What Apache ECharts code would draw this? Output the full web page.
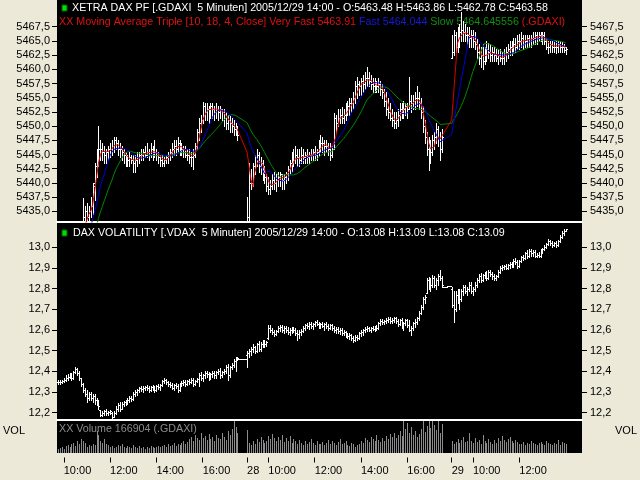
<!DOCTYPE html>
<html>
<head>
<meta charset="utf-8">
<script src="https://cdn.jsdelivr.net/npm/echarts/dist/echarts.min.js"></script>
<style>html,body{margin:0;padding:0;background:#ECE9D8;}#c{width:640px;height:480px;}</style>
</head>
<body>
<div id="c"></div>
<script>
const FONT = '"Liberation Sans", Arial, sans-serif';

// ---- time slots ----
const days = ['27', '28', '29'];
const sessionStart = ['09:45', '09:05', '09:05'];
const slotsPerDay = [98, 106, 60];      // day 27/28 include 4 late slots (VDAX only)
const padSlots = 8;
const xTickLabels = ['27 10:00','27 12:00','27 14:00','27 16:00','28 09:05','28 10:00','28 12:00','28 14:00','28 16:00','29 09:05','29 10:00','29 12:00'];

// ---- DAX 5-min bars [open, high, low, close] ----
const dax27 = [
[5426,5428,5421,5424],[5424,5426,5420,5422],[5422,5427,5421,5425],[5425,5426,5421,5423],[5423,5428,5422,5426],
[5426,5430,5425,5428],[5428,5429,5425,5427],[5427,5431,5426,5429],[5429,5430,5426,5428],[5428,5431,5427,5430],
[5430,5432,5428,5431],[5431,5432,5428,5430],[5430,5433,5429,5431],[5431,5437.3,5430,5434],[5434,5436,5432.5,5435],
[5435,5436.5,5433.5,5434],[5434,5436,5433,5435],[5435,5437.5,5434,5436],[5436,5440,5434.5,5440],[5439.5,5443.5,5437,5443],
[5443,5446,5441,5445],[5445,5450,5443,5446],[5446,5447.5,5444,5446],[5446,5447,5444,5445.5],[5445.5,5446.5,5443.5,5445],
[5445,5446,5443.5,5445.5],[5445.5,5446.5,5444,5446],[5446,5447,5444.5,5446],[5446,5447.5,5445,5446.5],[5446.5,5448,5445.5,5447.5],
[5447.5,5448,5446,5447],[5447,5447.5,5445,5446],[5446,5447,5444.5,5446],[5446,5446.5,5444,5445.5],[5445.5,5446,5443.5,5445],
[5445,5445.5,5443,5444],[5444,5445,5443,5444],[5444,5445.5,5443,5444.5],[5444.5,5445,5443.5,5444],[5444,5445,5442,5443.5],
[5443.5,5445,5442,5444],[5444,5445.5,5443,5444.5],[5444.5,5445.5,5443.5,5445],[5445,5446,5444,5445],[5445,5446,5444,5445.5],
[5445.5,5446.5,5444.5,5445],[5445,5447,5444.5,5445.5],[5445.5,5446,5444,5445],[5445,5447,5444.5,5446],[5446,5446.5,5444,5445.5],
[5445.5,5447.5,5444.5,5445.5],[5445.5,5446,5444,5445],[5445,5445.5,5443.5,5444.5],[5444.5,5445,5443,5444],[5444,5445,5443,5443.5],
[5443.5,5444.5,5443,5444],[5444,5445,5443.5,5444.5],[5444.5,5445.5,5443.5,5445],[5445,5446,5444,5445.5],[5445.5,5447,5444.5,5446],
[5446,5447.5,5445,5446.5],[5446.5,5447.5,5445,5446],[5446,5448,5445.5,5447],[5447,5447.5,5445,5446.5],[5446.5,5447,5445,5446],
[5446,5446.5,5444.5,5445.5],[5445.5,5446.5,5444.5,5445],[5445,5446,5444,5445],[5445,5446,5443.5,5444.5],[5444.5,5445.5,5443,5444.5],
[5444.5,5446,5442.5,5445],[5445,5447,5444.5,5446.5],[5446.5,5449.5,5446,5449],[5449,5451.5,5447.5,5450.5],[5450.5,5452,5449,5451],
[5451,5454.2,5450.5,5453.5],[5453.5,5454,5451,5452.5],[5452.5,5454,5451,5453],[5453,5453.5,5450.5,5452.5],[5452.5,5454,5451.5,5453.5],
[5453.5,5454,5451.5,5453],[5453,5453.5,5451,5452.5],[5452.5,5454,5451.5,5453],[5453,5453.5,5451,5452.5],[5452.5,5453.5,5451.5,5453],
[5453,5453,5451,5452.5],[5452.5,5453,5450,5451.5],[5451.5,5452.5,5449.5,5450.5],[5450.5,5452,5449.5,5451],[5451,5452,5449,5450.5],
[5450.5,5451.5,5449,5450],[5450,5451,5448.5,5449.5],[5449.5,5450.5,5448.5,5449.5],[5449.5,5450,5447.5,5448.5]
];
const dax28 = [
[5433,5437.5,5430,5434],[5434,5443.5,5433.5,5440],[5440,5442.5,5439,5440],[5440,5443.5,5439.5,5443],[5443,5445,5441.5,5444.5],
[5444.5,5446,5443,5445],[5445,5445.5,5442,5443],[5443,5444.5,5441.5,5443.5],[5443.5,5444,5440.5,5442],[5442,5443,5440,5441],
[5441,5441.5,5438.5,5439.5],[5439.5,5441,5438,5439],[5439,5440.5,5438,5439.5],[5439.5,5441.5,5439,5440.5],[5440.5,5442,5439,5440],
[5440,5441.5,5438.5,5440.5],[5440.5,5442,5439.5,5441],[5441,5442,5439.5,5441.5],[5441.5,5441.5,5439,5440.5],[5440.5,5441.5,5439,5441],
[5441,5442,5440,5441.5],[5441.5,5443,5440.5,5442.5],[5442.5,5444,5441.5,5443.5],[5443.5,5445.5,5442,5444.5],[5444.5,5446,5443,5444],
[5444,5446.5,5443.5,5445],[5445,5446,5443,5444.5],[5444.5,5446,5443,5444],[5444,5446.3,5443.5,5445],[5445,5446,5443.5,5444.5],
[5444.5,5445.5,5443.5,5445],[5445,5446,5443.5,5444.5],[5444.5,5445.5,5443.5,5445],[5445,5446,5444,5445],[5445,5446,5444,5445.5],
[5445.5,5446.5,5444,5445],[5445,5446,5444,5445.5],[5445.5,5447.5,5445,5446.5],[5446.5,5448.4,5445.5,5447],[5447,5448,5445.5,5447],
[5447,5447.5,5445,5446.5],[5446.5,5447.5,5445.5,5446.5],[5446.5,5447,5445,5446],[5446,5447,5444,5445],[5445,5446.5,5444.5,5446],
[5446,5452.3,5446,5451.5],[5451.5,5452,5448.7,5450.5],[5450.5,5453,5450,5451.5],[5451.5,5453,5450.5,5452],[5452,5453.4,5450.5,5451.5],
[5451.5,5453,5450.5,5452],[5452,5454,5451,5453],[5453,5454.5,5452,5453.5],[5453.5,5455,5452,5454],[5454,5455,5452.5,5454],
[5454,5456,5453,5455],[5455,5458,5454,5457],[5457,5458.6,5455,5457.5],[5457.5,5458,5455.5,5457],[5457,5458.5,5455.5,5458],
[5458,5459,5456,5457.5],[5457.5,5459.5,5456.5,5458.5],[5458.5,5460.4,5457,5458.5],[5458.5,5459.5,5457,5458],[5458,5459,5456.5,5457.5],
[5457.5,5458.5,5456,5457],[5457,5458.5,5456,5457.5],[5457.5,5458,5456,5457],[5457,5458.5,5456,5457.5],[5457.5,5458,5455.5,5456.5],
[5456.5,5457.5,5455,5456],[5456,5456.5,5453.5,5454.5],[5454.5,5456,5452,5453],[5453,5455,5451.5,5452.5],[5452.5,5454,5451,5451.5],
[5451.5,5453,5450,5451],[5451,5452.5,5449.6,5450.5],[5450.5,5452.5,5449.6,5451],[5451,5453,5450,5452],[5452,5454,5451,5453],
[5453,5454,5451.5,5453.5],[5453.5,5454.5,5451.5,5453],[5453,5454,5452,5453.5],[5453.5,5454,5451.5,5453],[5453,5458.6,5453,5454.5],
[5454.5,5455.5,5452.5,5454],[5454,5455.5,5453,5454.5],[5454.5,5456,5453,5455],[5455,5457,5453.5,5455],[5455,5456,5453,5454],
[5454,5455,5451.5,5452.5],[5452.5,5453.5,5449,5450],[5450,5451,5447,5448],[5448,5449,5445,5446],[5446,5448,5442.3,5444.5],
[5444.5,5447.5,5443.5,5445.5],[5445.5,5448.5,5445,5447.5],[5447.5,5449,5446,5448],[5448,5450.5,5447,5449.5],[5449.5,5450,5446.5,5447.5],
[5447.5,5449,5444,5446],[5446,5449.5,5445.5,5448]
];
const dax29 = [
[5462,5466,5462,5463],[5463,5467,5462.5,5466],[5466,5466.5,5463,5464],[5464,5467.5,5463,5465.5],[5465.5,5468,5464,5466.5],
[5466.5,5470,5465,5467],[5467,5468.5,5465,5466.5],[5466.5,5468,5465,5466],[5466,5467.5,5464.5,5466],[5466,5467.5,5464,5465.5],
[5465.5,5467,5464,5466],[5466,5467,5463.9,5465],[5465,5466.5,5463.5,5464.5],[5464.5,5465.5,5462,5463],[5463,5464.5,5461,5462],
[5462,5464,5460.4,5462.5],[5462.5,5464.5,5460,5461.5],[5461.5,5464,5461,5462.5],[5462.5,5465,5461.5,5463.5],[5463.5,5464.6,5462,5463],
[5463,5464.5,5461.5,5462.5],[5462.5,5464,5461.5,5463],[5463,5464,5461.5,5462.5],[5462.5,5463.5,5461.5,5462],[5462,5463.5,5461,5462.5],
[5462.5,5463.5,5461.5,5462],[5462,5463,5461,5462],[5462,5463.5,5461,5462.5],[5462.5,5464,5461.5,5463],[5463,5464.5,5462,5463.5],
[5463.5,5465,5462.5,5464],[5464,5465,5462.5,5463.5],[5463.5,5465.5,5463,5464.5],[5464.5,5465.5,5463,5464],[5464,5466,5463.5,5465],
[5465,5466.3,5463.5,5465],[5465,5466.5,5464,5465.5],[5465.5,5466,5463.5,5464.5],[5464.5,5466,5463.9,5465],[5465,5466,5464,5465.5],
[5465.5,5466,5464,5465],[5465,5466,5464,5465.5],[5465.5,5466.5,5464.5,5465.5],[5465.5,5466.5,5464.5,5466],[5466,5466.5,5464.5,5465.5],
[5465.5,5466.5,5465,5466],[5466,5466.6,5465,5466],[5466,5466.6,5464.5,5466],[5466,5466.5,5464.5,5465],[5465,5465.5,5463.5,5464],
[5464,5465,5462.8,5464],[5464,5465,5463,5464.5],[5464.5,5465,5463,5464],[5464,5465,5463,5464],[5464,5465,5462.8,5464],
[5464,5465,5463,5464.5],[5464.5,5465,5463,5464],[5464,5464.8,5463,5464],[5464,5464.5,5463,5464],[5463.48,5463.86,5462.78,5463.58]
];

// ---- VDAX 5-min bars [open, high, low, close] ----
const vdax27 = [
[12.35,12.36,12.34,12.35],[12.35,12.36,12.34,12.35],[12.35,12.36,12.345,12.355],[12.355,12.37,12.35,12.36],[12.36,12.38,12.355,12.37],
[12.37,12.385,12.36,12.375],[12.375,12.39,12.37,12.38],[12.38,12.39,12.36,12.37],[12.37,12.40,12.365,12.395],[12.395,12.42,12.39,12.41],
[12.41,12.415,12.38,12.39],[12.39,12.40,12.36,12.37],[12.37,12.37,12.33,12.34],[12.34,12.345,12.30,12.31],[12.31,12.32,12.28,12.29],
[12.29,12.31,12.25,12.27],[12.27,12.30,12.26,12.29],[12.29,12.30,12.26,12.27],[12.27,12.29,12.25,12.28],[12.28,12.29,12.24,12.26],
[12.26,12.27,12.235,12.25],[12.25,12.26,12.22,12.23],[12.215,12.215,12.185,12.19],[12.19,12.21,12.185,12.20],[12.20,12.215,12.19,12.21],
[12.21,12.22,12.19,12.20],[12.20,12.21,12.19,12.205],[12.205,12.215,12.195,12.21],[12.20,12.205,12.17,12.18],[12.18,12.21,12.18,12.20],
[12.20,12.23,12.195,12.22],[12.22,12.245,12.21,12.235],[12.235,12.25,12.21,12.22],[12.22,12.25,12.22,12.24],[12.24,12.255,12.23,12.25],
[12.25,12.26,12.235,12.245],[12.245,12.27,12.24,12.26],[12.26,12.28,12.25,12.27],[12.27,12.28,12.255,12.265],[12.265,12.30,12.26,12.29],
[12.29,12.31,12.28,12.30],[12.30,12.315,12.285,12.31],[12.31,12.325,12.30,12.32],[12.32,12.33,12.305,12.315],[12.315,12.33,12.30,12.32],
[12.32,12.33,12.31,12.325],[12.325,12.335,12.31,12.32],[12.32,12.33,12.30,12.31],[12.31,12.33,12.305,12.325],[12.325,12.335,12.31,12.32],
[12.32,12.33,12.30,12.31],[12.31,12.335,12.305,12.33],[12.33,12.34,12.315,12.325],[12.325,12.34,12.31,12.335],[12.335,12.36,12.33,12.355],
[12.355,12.37,12.345,12.36],[12.36,12.365,12.34,12.35],[12.35,12.355,12.33,12.34],[12.34,12.35,12.325,12.335],[12.335,12.345,12.315,12.32],
[12.32,12.34,12.31,12.335],[12.335,12.345,12.32,12.33],[12.33,12.34,12.30,12.31],[12.31,12.345,12.305,12.34],[12.34,12.355,12.33,12.345],
[12.345,12.36,12.335,12.35],[12.35,12.36,12.33,12.34],[12.34,12.36,12.335,12.355],[12.355,12.365,12.34,12.35],[12.35,12.37,12.345,12.36],
[12.36,12.37,12.33,12.34],[12.34,12.36,12.335,12.355],[12.355,12.37,12.35,12.365],[12.365,12.39,12.33,12.38],[12.38,12.395,12.36,12.37],
[12.37,12.385,12.355,12.38],[12.38,12.40,12.37,12.39],[12.39,12.40,12.375,12.385],[12.385,12.395,12.36,12.375],[12.375,12.39,12.365,12.385],
[12.385,12.40,12.375,12.39],[12.39,12.40,12.37,12.38],[12.38,12.40,12.37,12.395],[12.395,12.41,12.385,12.40],[12.40,12.415,12.37,12.38],
[12.38,12.40,12.375,12.395],[12.395,12.41,12.385,12.40],[12.40,12.43,12.39,12.42],[12.42,12.435,12.36,12.38],[12.38,12.425,12.375,12.42],
[12.42,12.44,12.41,12.43],[12.43,12.46,12.42,12.45],[12.45,12.47,12.40,12.46],[12.46,12.47,12.455,12.465]
];
const vdaxLate27 = [12.46, 12.46, 12.46, 12.46];
const vdax28 = [
[12.48,12.50,12.42,12.49],[12.49,12.51,12.47,12.50],[12.50,12.52,12.48,12.51],[12.51,12.53,12.495,12.52],[12.52,12.525,12.49,12.50],
[12.50,12.535,12.495,12.53],[12.53,12.545,12.50,12.51],[12.51,12.54,12.50,12.53],[12.53,12.55,12.52,12.54],[12.54,12.55,12.52,12.53],
[12.53,12.545,12.525,12.54],[12.56,12.625,12.555,12.61],[12.61,12.625,12.59,12.60],[12.60,12.61,12.58,12.59],[12.59,12.60,12.57,12.58],
[12.58,12.60,12.575,12.595],[12.595,12.62,12.59,12.61],[12.61,12.625,12.595,12.615],[12.615,12.625,12.59,12.60],[12.60,12.62,12.585,12.61],
[12.61,12.62,12.59,12.60],[12.60,12.615,12.58,12.59],[12.59,12.61,12.575,12.60],[12.60,12.615,12.585,12.605],[12.605,12.615,12.59,12.60],
[12.60,12.61,12.575,12.585],[12.585,12.60,12.55,12.58],[12.58,12.60,12.56,12.59],[12.59,12.605,12.575,12.595],[12.595,12.62,12.59,12.61],
[12.61,12.63,12.60,12.625],[12.625,12.635,12.61,12.62],[12.62,12.64,12.605,12.63],[12.63,12.64,12.61,12.62],[12.62,12.635,12.605,12.63],
[12.63,12.645,12.62,12.64],[12.64,12.648,12.625,12.63],[12.63,12.64,12.61,12.625],[12.625,12.635,12.61,12.63],[12.63,12.64,12.615,12.62],
[12.62,12.635,12.60,12.63],[12.63,12.64,12.61,12.62],[12.62,12.63,12.60,12.61],[12.61,12.63,12.605,12.625],[12.625,12.63,12.60,12.61],
[12.61,12.62,12.59,12.60],[12.60,12.615,12.585,12.605],[12.605,12.615,12.585,12.595],[12.595,12.61,12.58,12.60],[12.60,12.61,12.575,12.585],
[12.585,12.60,12.575,12.59],[12.59,12.595,12.565,12.575],[12.575,12.585,12.56,12.57],[12.57,12.585,12.555,12.575],[12.575,12.58,12.55,12.56],
[12.56,12.57,12.54,12.55],[12.55,12.575,12.545,12.565],[12.565,12.575,12.55,12.56],[12.56,12.59,12.555,12.585],[12.585,12.60,12.57,12.59],
[12.59,12.605,12.575,12.60],[12.60,12.615,12.59,12.605],[12.605,12.62,12.595,12.61],[12.61,12.615,12.595,12.60],[12.60,12.615,12.59,12.61],
[12.61,12.62,12.60,12.605],[12.605,12.62,12.595,12.615],[12.615,12.625,12.60,12.61],[12.61,12.64,12.605,12.635],[12.635,12.655,12.625,12.645],
[12.645,12.655,12.63,12.64],[12.64,12.65,12.63,12.645],[12.645,12.66,12.635,12.65],[12.65,12.665,12.64,12.655],[12.655,12.665,12.635,12.645],
[12.645,12.66,12.635,12.65],[12.65,12.665,12.64,12.66],[12.66,12.665,12.635,12.645],[12.645,12.655,12.62,12.63],[12.63,12.655,12.625,12.65],
[12.65,12.66,12.61,12.62],[12.62,12.64,12.60,12.635],[12.635,12.655,12.625,12.65],[12.65,12.655,12.615,12.625],[12.625,12.65,12.595,12.60],
[12.60,12.62,12.575,12.61],[12.61,12.64,12.60,12.635],[12.635,12.655,12.615,12.64],[12.64,12.665,12.63,12.66],[12.66,12.69,12.65,12.68],
[12.68,12.72,12.675,12.71],[12.71,12.76,12.70,12.75],[12.75,12.77,12.73,12.76],[12.78,12.85,12.78,12.84],[12.84,12.855,12.80,12.83],
[12.83,12.85,12.79,12.82],[12.82,12.866,12.81,12.85],[12.85,12.86,12.81,12.82],[12.82,12.85,12.80,12.84],[12.84,12.87,12.82,12.86],
[12.86,12.89,12.84,12.85],[12.85,12.86,12.81,12.82]
];
const vdaxLate28 = [12.81, 12.81, 12.815, 12.815];
const vdax29 = [
[12.80,12.81,12.71,12.72],[12.72,12.79,12.64,12.70],[12.70,12.79,12.69,12.77],[12.77,12.80,12.73,12.78],[12.78,12.80,12.70,12.75],
[12.75,12.80,12.74,12.79],[12.79,12.82,12.77,12.81],[12.81,12.82,12.78,12.79],[12.79,12.81,12.77,12.80],[12.80,12.83,12.79,12.82],
[12.82,12.83,12.78,12.79],[12.79,12.81,12.77,12.80],[12.80,12.83,12.79,12.82],[12.82,12.85,12.81,12.84],[12.84,12.87,12.83,12.86],
[12.86,12.875,12.83,12.84],[12.84,12.87,12.835,12.865],[12.865,12.88,12.85,12.87],[12.87,12.885,12.84,12.85],[12.85,12.89,12.845,12.88],
[12.88,12.89,12.86,12.87],[12.87,12.88,12.845,12.86],[12.86,12.87,12.84,12.85],[12.85,12.865,12.84,12.86],[12.86,12.89,12.855,12.88],
[12.88,12.91,12.875,12.90],[12.90,12.915,12.89,12.905],[12.905,12.915,12.895,12.91],[12.91,12.92,12.895,12.90],[12.90,12.92,12.895,12.915],
[12.915,12.93,12.90,12.92],[12.92,12.93,12.905,12.91],[12.91,12.945,12.905,12.935],[12.935,12.947,12.92,12.93],[12.93,12.94,12.90,12.91],
[12.91,12.94,12.905,12.935],[12.935,12.96,12.93,12.955],[12.955,12.965,12.94,12.95],[12.95,12.975,12.945,12.97],[12.97,12.985,12.95,12.96],
[12.96,12.99,12.955,12.98],[12.98,12.99,12.96,12.97],[12.97,12.985,12.96,12.975],[12.975,12.985,12.955,12.96],[12.96,12.97,12.955,12.965],
[12.965,12.975,12.955,12.96],[12.96,12.99,12.955,12.985],[12.985,12.995,12.97,12.99],[12.99,13.01,12.985,13.00],[13.00,13.02,12.995,13.015],
[13.015,13.04,13.01,13.03],[13.03,13.035,13.01,13.02],[13.02,13.03,13.00,13.01],[13.01,13.025,13.005,13.02],[13.02,13.03,13.00,13.01],
[13.01,13.035,13.005,13.03],[13.03,13.06,13.025,13.05],[13.05,13.08,13.045,13.07],[13.07,13.09,13.06,13.08],[13.08,13.09,13.08,13.09]
];

// ---- DAX volume (thousands) ----
const vol27 = [74,93,111,74,130,148,111,167,185,130,222,167,259,222,185,111,148,130,167,148,407,333,222,185,259,167,
148,111,130,93,111,148,130,167,111,93,130,111,93,148,111,93,130,93,111,74,111,93,130,111,93,111,130,111,
130,148,111,167,130,148,185,130,167,148,185,222,167,204,259,296,222,333,278,241,370,278,315,241,352,259,296,
222,333,278,259,370,296,241,407,333,444,650,481,370];
const vol28 = [426,185,148,222,167,259,204,296,241,185,222,315,259,352,278,222,296,241,333,204,278,222,315,185,259,222,167,241,
185,148,222,167,204,259,185,148,222,167,167,204,148,185,241,167,222,185,148,204,259,167,185,222,
148,130,185,167,111,148,167,222,185,278,241,204,296,259,222,333,241,204,278,222,315,259,352,296,370,278,333,407,315,
650,444,555,370,481,333,407,296,352,444,650,389,500,650,463,650,518,426,650,370,537];
const vol29 = [222,167,204,259,185,241,296,204,222,370,222,185,278,204,241,167,333,222,185,259,204,167,241,
185,278,222,315,241,204,259,296,222,185,241,204,167,167,204,148,185,167,222,185,
167,148,185,204,167,148,222,185,167,148,185,167,241,148,204,185,166.904];

// ---- axis ticks ----
const daxTicks = [5435,5437.5,5440,5442.5,5445,5447.5,5450,5452.5,5455,5457.5,5460,5462.5,5465,5467.5];
const vdaxTicks = [12.2,12.3,12.4,12.5,12.6,12.7,12.8,12.9,13.0];

// ---- build categories & series data ----
function hhmm(t){const h=Math.floor(t/60),m=t%60;return (h<10?'0':'')+h+':'+(m<10?'0':'')+m;}
const cats=[]; const dayOffset=[];
days.forEach((d,k)=>{dayOffset.push(cats.length);const p=sessionStart[k].split(':').map(Number);const t0=p[0]*60+p[1];
  for(let j=0;j<slotsPerDay[k];j++) cats.push(d+' '+hhmm(t0+5*j));});
for(let j=0;j<padSlots;j++) cats.push('pad'+j);

const daxBars=[];[dax27,dax28,dax29].forEach((rows,k)=>rows.forEach((r,j)=>daxBars.push([dayOffset[k]+j].concat(r))));
const vdaxBars=[];
[[vdax27,vdaxLate27],[vdax28,vdaxLate28],[vdax29,[]]].forEach((pair,k)=>{
  pair[0].forEach((r,j)=>vdaxBars.push([dayOffset[k]+j].concat(r)));
  pair[1].forEach((v,j)=>vdaxBars.push([dayOffset[k]+pair[0].length+j,v,v,v,v]));
});
const volBars=[];[vol27,vol28,vol29].forEach((rows,k)=>rows.forEach((v,j)=>volBars.push([dayOffset[k]+j,v])));
function movingAvg(n){const out=[];for(let i=n-1;i<daxBars.length;i++){let s=0;for(let k=i-n+1;k<=i;k++)s+=daxBars[k][4];out.push([daxBars[i][0],s/n]);}return out;}
const maVeryFast=movingAvg(4), maFast=movingAvg(10), maSlow=movingAvg(18);

function renderOHLC(params, api){
  const i=api.value(0);
  const o=api.coord([i,api.value(1)]),h=api.coord([i,api.value(2)]),l=api.coord([i,api.value(3)]),c=api.coord([i,api.value(4)]);
  const cx=Math.round(h[0]);const yh=Math.round(h[1]),yl=Math.round(l[1]),yo=Math.round(o[1]),yc=Math.round(c[1]);
  const st={stroke:'#ffffff',lineWidth:1};
  return {type:'group',children:[
    {type:'line',shape:{x1:cx+0.5,y1:yh,x2:cx+0.5,y2:Math.max(yl,yh)+1},style:st},
    {type:'line',shape:{x1:cx-1,y1:yo+0.5,x2:cx,y2:yo+0.5},style:st},
    {type:'line',shape:{x1:cx+1,y1:yc+0.5,x2:cx+2,y2:yc+0.5},style:st}
  ]};
}
function renderVol(params, api){
  const i=api.value(0);const top=api.coord([i,api.value(1)]);const base=api.coord([i,0]);const cx=Math.round(top[0]);
  return {type:'rect',shape:{x:cx,y:top[1],width:1,height:base[1]-top[1]},style:{fill:'#8c8c8c'}};
}
const fmtComma = v => v.toFixed(1).replace('.', ',');
const tickFn = (idx, val) => xTickLabels.indexOf(val) >= 0;
const labelFn = val => { const p = String(val).split(' '); return p[1] === '09:05' ? p[0] : (p[1] || ''); };

function yPair(grid, min, max, ticks){
  const base = {gridIndex:grid, min:min, max:max, scale:true, splitLine:{show:false}, axisLine:{show:false},
    axisTick:{show:true, length:5, lineStyle:{color:'#000'}, customValues:ticks},
    axisLabel:{customValues:ticks, formatter:fmtComma, color:'#000', fontSize:11, fontFamily:FONT}, z:5};
  return [Object.assign({}, base, {position:'left', axisLabel:Object.assign({}, base.axisLabel, {margin:7})}),
          Object.assign({}, base, {position:'right', axisLabel:Object.assign({}, base.axisLabel, {margin:8})})];
}
const sepAxis = g => ({gridIndex:g, type:'category', data:cats, boundaryGap:true,
  axisLine:{show:true, onZero:false, lineStyle:{color:'#ffffff', width:2}}, axisTick:{show:false}, axisLabel:{show:false}, splitLine:{show:false}, z:5});

const chart = echarts.init(document.getElementById('c'), null, {renderer:'canvas'});
const TS = 10.7;
const txt = {color:'#ffffff', fontSize:TS, fontFamily:FONT, fontWeight:'normal', lineHeight:13};
chart.setOption({
  backgroundColor:'#ECE9D8',
  animation:false,
  grid:[
    {left:57, top:0, width:525, height:222, show:true, backgroundColor:'#000', borderWidth:0, z:0},
    {left:57, top:223, width:525, height:197, show:true, backgroundColor:'#000', borderWidth:0, z:0},
    {left:57, top:421, width:525, height:32, show:true, backgroundColor:'#000', borderWidth:0, z:0}
  ],
  title:[
    {left:72, top:1.5, padding:0, z:6, text:'XETRA DAX PF [.GDAXI  5 Minuten] 2005/12/29 14:00 - O:5463.48 H:5463.86 L:5462.78 C:5463.58', textStyle:txt},
    {left:59, top:16, padding:0, z:6, text:'{r|XX Moving Average Triple [10, 18, 4, Close] Very Fast 5463.91 }{b|Fast 5464.044 }{g|Slow 5464.645556 }{r|(.GDAXI)}',
      textStyle:Object.assign({}, txt, {rich:{
        r:{color:'#e01010', fontSize:TS, fontFamily:FONT, lineHeight:13},
        b:{color:'#1818d8', fontSize:TS, fontFamily:FONT, lineHeight:13},
        g:{color:'#109010', fontSize:TS, fontFamily:FONT, lineHeight:13}}})},
    {left:73, top:226.5, padding:0, z:6, text:'DAX VOLATILITY [.VDAX  5 Minuten] 2005/12/29 14:00 - O:13.08 H:13.09 L:13.08 C:13.09', textStyle:txt},
    {left:59, top:423, padding:0, z:6, text:'XX Volume 166904 (.GDAXI)', textStyle:Object.assign({}, txt, {color:'#8c8c8c'})},
    {left:3, top:424, padding:0, text:'VOL', textStyle:Object.assign({}, txt, {color:'#000', fontSize:11})},
    {left:615, top:424, padding:0, text:'VOL', textStyle:Object.assign({}, txt, {color:'#000', fontSize:11})}
  ],
  graphic:[
    {type:'rect', left:61.5, top:4.5, shape:{width:5, height:6}, style:{fill:'#00e000', stroke:'#006000', lineWidth:1}, z:7},
    {type:'rect', left:61.5, top:229.5, shape:{width:5, height:6}, style:{fill:'#00e000', stroke:'#006000', lineWidth:1}, z:7}
  ],
  xAxis:[
    sepAxis(0), sepAxis(1),
    {gridIndex:2, type:'category', data:cats, boundaryGap:true, offset:4.5,
      axisLine:{show:false, onZero:false},
      axisTick:{show:true, alignWithLabel:true, interval:tickFn, length:5, lineStyle:{color:'#000'}},
      axisLabel:{interval:tickFn, formatter:labelFn, align:'left', color:'#000', fontSize:11, fontFamily:FONT, margin:8},
      splitLine:{show:false}, z:5}
  ],
  yAxis:[].concat(
    yPair(0, 5433.12, 5472.2, daxTicks),
    yPair(1, 12.1647, 13.1175, vdaxTicks),
    [{gridIndex:2, min:0, max:592, show:false, splitLine:{show:false}}]
  ),
  series:[
    {type:'custom', name:'DAX', xAxisIndex:0, yAxisIndex:0, renderItem:renderOHLC, data:daxBars, encode:{x:0, y:[1,2,3,4]}, clip:true, z:10, silent:true},
    {type:'line', name:'Slow', xAxisIndex:0, yAxisIndex:0, data:maSlow, showSymbol:false, lineStyle:{color:'#008800', width:1}, clip:true, z:11, silent:true},
    {type:'line', name:'Fast', xAxisIndex:0, yAxisIndex:0, data:maFast, showSymbol:false, lineStyle:{color:'#0000d8', width:1}, clip:true, z:12, silent:true},
    {type:'line', name:'Very Fast', xAxisIndex:0, yAxisIndex:0, data:maVeryFast, showSymbol:false, lineStyle:{color:'#d80000', width:1}, clip:true, z:13, silent:true},
    {type:'custom', name:'VDAX', xAxisIndex:1, yAxisIndex:2, renderItem:renderOHLC, data:vdaxBars, encode:{x:0, y:[1,2,3,4]}, clip:true, z:10, silent:true},
    {type:'custom', name:'Volume', xAxisIndex:2, yAxisIndex:4, renderItem:renderVol, data:volBars, encode:{x:0, y:1}, clip:true, z:10, silent:true}
  ]
});
</script>
</body>
</html>
